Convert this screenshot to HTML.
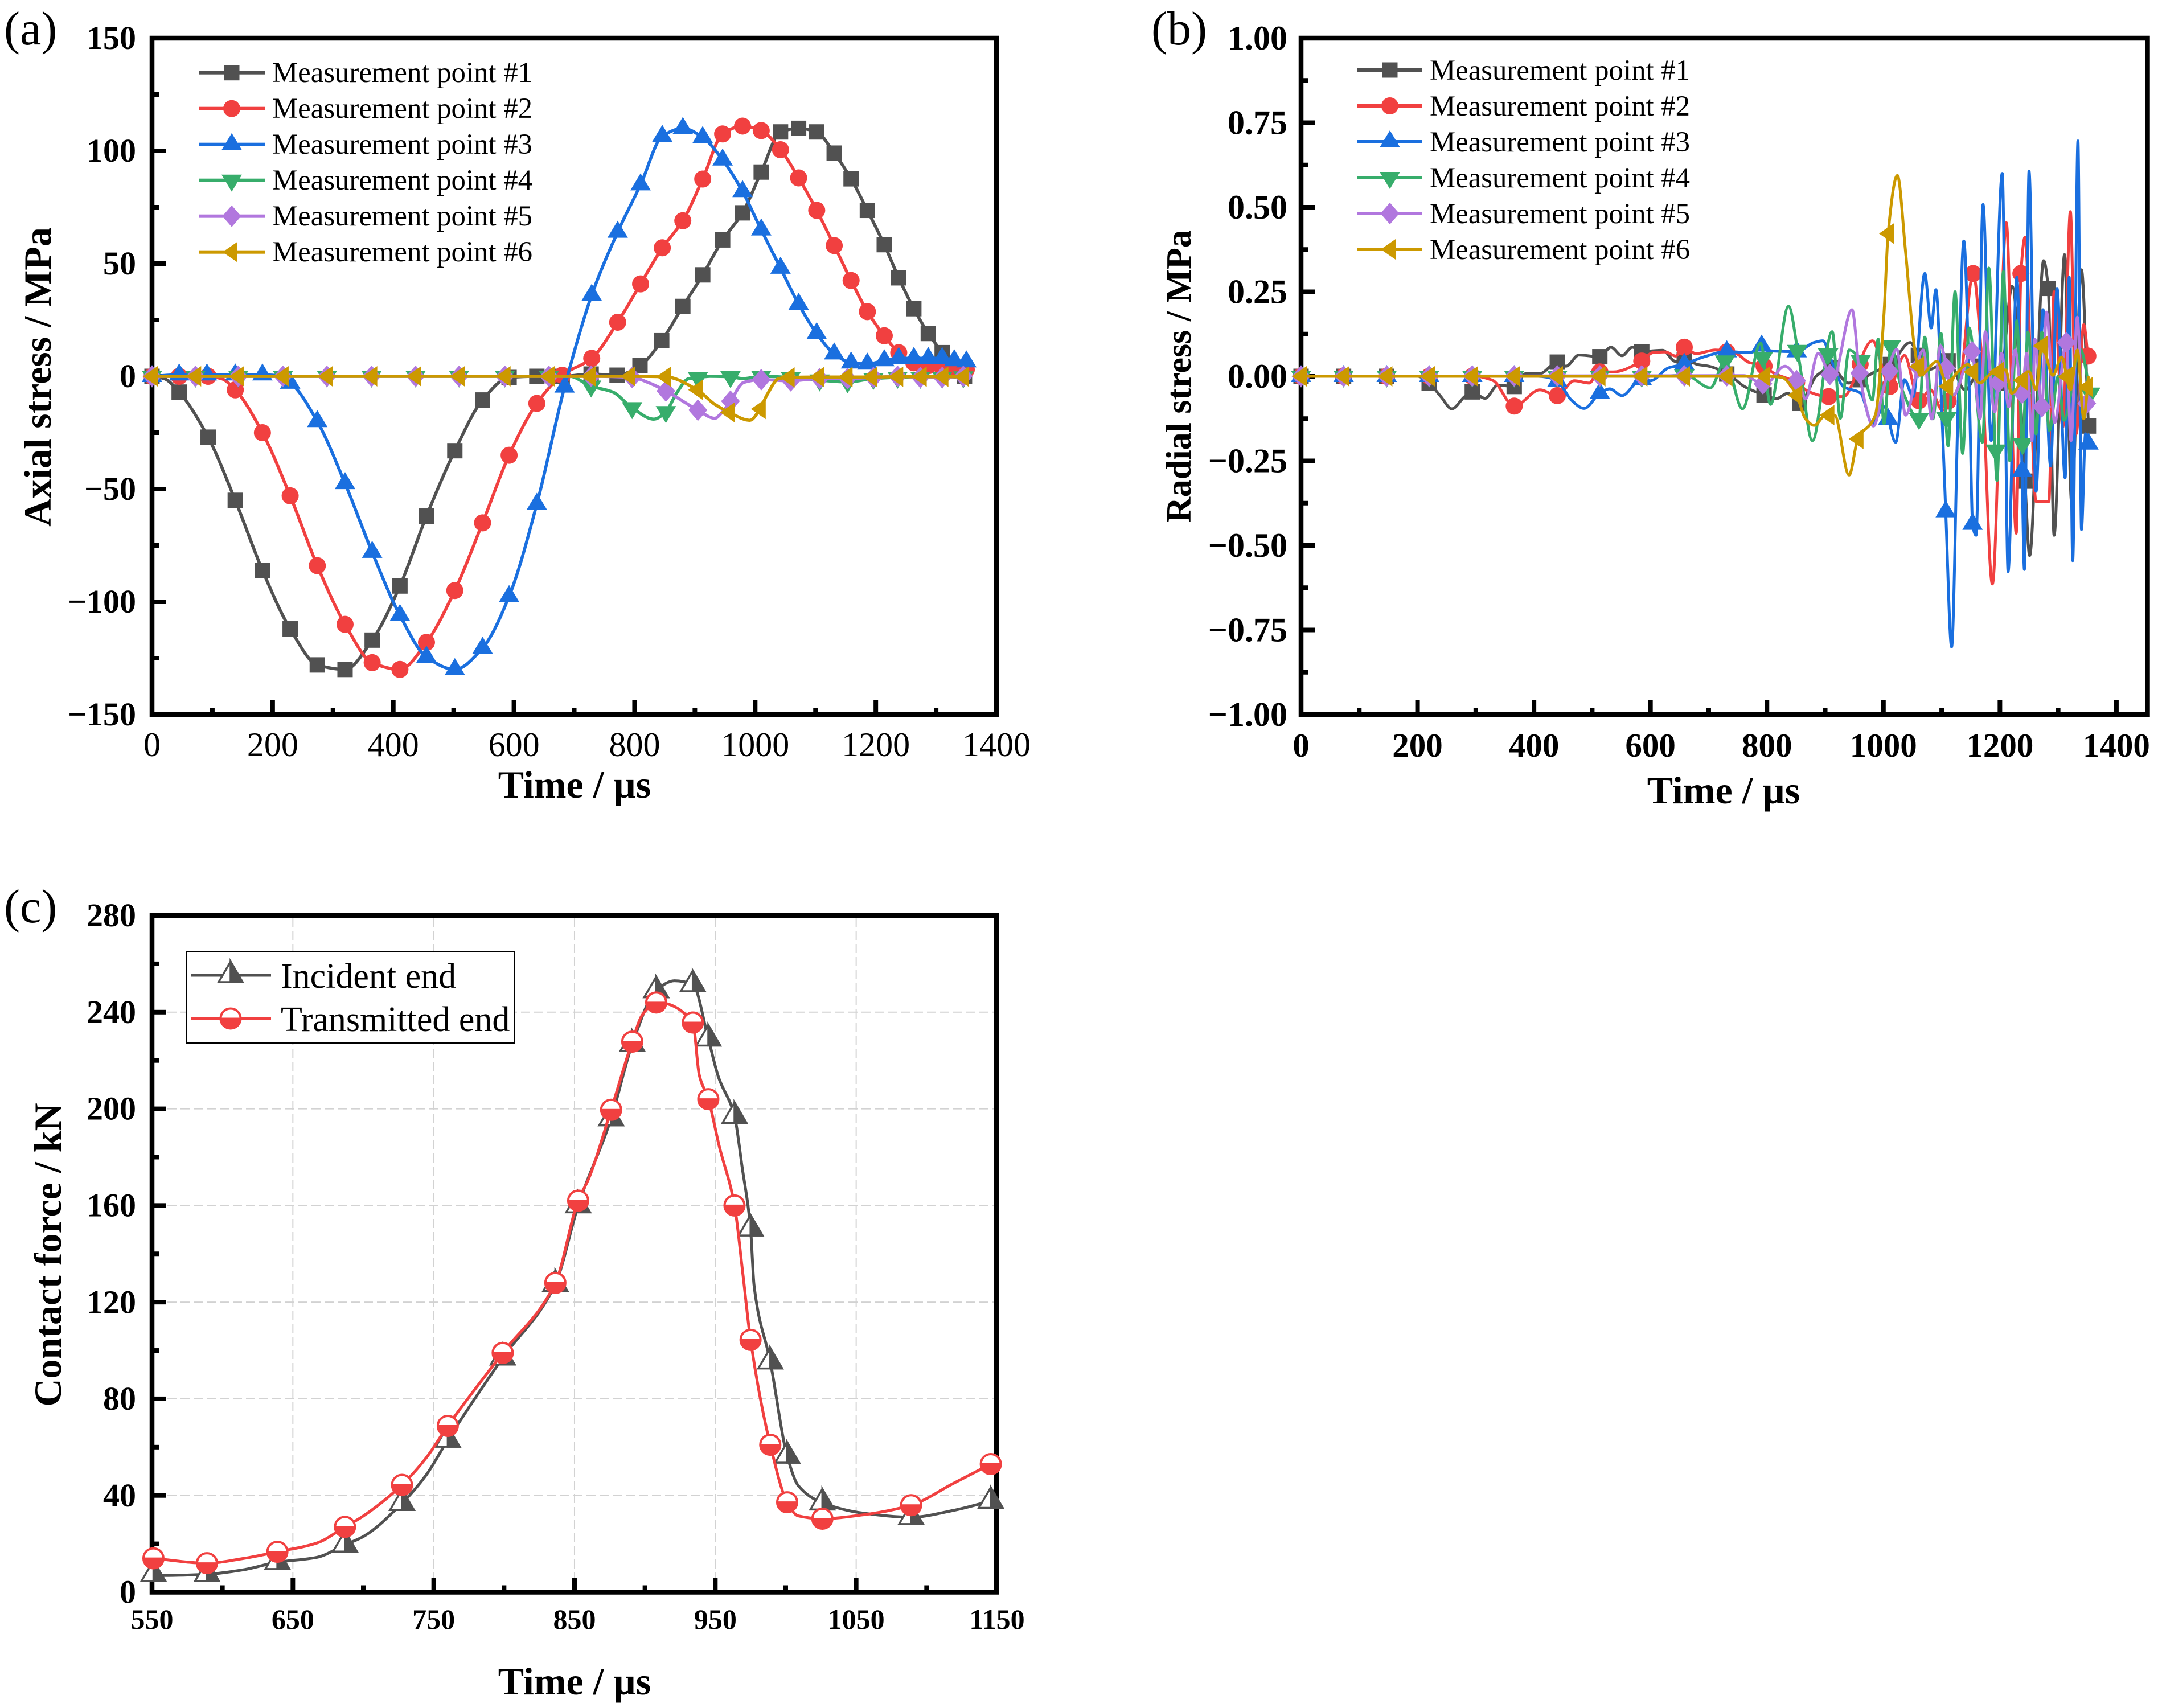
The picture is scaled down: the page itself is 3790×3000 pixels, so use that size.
<!DOCTYPE html>
<html>
<head>
<meta charset="utf-8">
<title>Stress and contact force charts</title>
<style>
html,body{margin:0;padding:0;background:#fff}
svg{display:block;font-family:"Liberation Serif",serif}
text{fill:#000}
.leg{font-size:50.8px}
.ttl{font-size:68px;font-weight:bold}
.pan{font-size:84px}
</style>
</head>
<body>
<svg id="figure" xmlns="http://www.w3.org/2000/svg" width="3790" height="3000" viewBox="0 0 3790 3000">
<rect x="0" y="0" width="3790" height="3000" fill="#fff"/>
<g id="panelA"></g>
<g id="panelB"></g>
<g id="panelC"></g>

<text class="pan" x="7" y="78">(a)</text>
<text class="pan" x="2022" y="78">(b)</text>
<text class="pan" x="7" y="1620">(c)</text>

<text class="ttl" text-anchor="middle" x="1009" y="1401">Time / µs</text>
<text class="ttl" text-anchor="middle" transform="translate(89 662) rotate(-90)">Axial stress / MPa</text>
<text class="ttl" text-anchor="middle" x="3027" y="1411">Time / µs</text>
<text class="ttl" style="font-size:62px" text-anchor="middle" transform="translate(2091 661) rotate(-90)">Radial stress / MPa</text>
<text class="ttl" text-anchor="middle" x="1009" y="2976">Time / µs</text>
<text class="ttl" text-anchor="middle" transform="translate(107 2204) rotate(-90)">Contact force / kN</text>

<g id="legendA">
<text class="leg" x="478" y="144">Measurement point #1</text>
<text class="leg" x="478" y="207">Measurement point #2</text>
<text class="leg" x="478" y="270">Measurement point #3</text>
<text class="leg" x="478" y="333">Measurement point #4</text>
<text class="leg" x="478" y="396">Measurement point #5</text>
<text class="leg" x="478" y="459">Measurement point #6</text>
</g>
<g id="legendB">
<text class="leg" x="2511" y="140">Measurement point #1</text>
<text class="leg" x="2511" y="203">Measurement point #2</text>
<text class="leg" x="2511" y="266">Measurement point #3</text>
<text class="leg" x="2511" y="329">Measurement point #4</text>
<text class="leg" x="2511" y="392">Measurement point #5</text>
<text class="leg" x="2511" y="455">Measurement point #6</text>
</g>
<g id="legendC">
<rect x="327" y="1672" width="577" height="160" fill="#fff" stroke="#000" stroke-width="2"/>
<text x="493" y="1735" style="font-size:62px">Incident end</text>
<text x="493" y="1811" style="font-size:62px">Transmitted end</text>
</g>
</svg>

<script>
// ---------- category / tick data ----------
const colors = ['#515151', '#F14040', '#1A6FDF', '#37AD6B', '#B177DE', '#CC9900'];
const shapes = ['square', 'circle', 'up', 'down', 'diamond', 'left'];

const xTicksA = [0, 200, 400, 600, 800, 1000, 1200, 1400];
const xMinorA = [100, 300, 500, 700, 900, 1100, 1300];
const yTicksA = [150, 100, 50, 0, -50, -100, -150];
const yMinorA = [125, 75, 25, -25, -75, -125];

const xTicksB = [0, 200, 400, 600, 800, 1000, 1200, 1400];
const xMinorB = [100, 300, 500, 700, 900, 1100, 1300];
const yTicksB = [1, 0.75, 0.5, 0.25, 0, -0.25, -0.5, -0.75, -1];
const yMinorB = [0.875, 0.625, 0.375, 0.125, -0.125, -0.375, -0.625, -0.875];

const xTicksC = [550, 650, 750, 850, 950, 1050, 1150];
const xMinorC = [600, 700, 800, 900, 1000, 1100];
const yTicksC = [0, 40, 80, 120, 160, 200, 240, 280];
const yMinorC = [20, 60, 100, 140, 180, 220, 260];

// ---------- panel (a) axial stress ----------
const tA1 = [0,20,45,93,138,183,229,274,320,365,411,455,502,548,592,638,680,728,771,809,845,880,913,946,979,1010,1042,1072,1102,1131,1159,1186,1214,1238,1263,1287,1310,1330,1347];
const vA1 = [0,-1,-7,-27,-55,-86,-112,-128,-130,-117,-93,-62,-33,-10.5,-0.5,0,0,1,0.5,4.7,15.8,31,45,60.5,72.5,90.6,108.4,110,108.4,99,87.6,73.6,58.4,43.7,30,19,10.5,3,0];
const mA1 = [0,45,93,138,183,229,274,320,365,411,455,502,548,592,638,680,728,771,809,845,880,913,946,979,1010,1042,1072,1102,1131,1159,1186,1214,1238,1263,1287,1310,1347];

const tA2 = [0,45,93,115,138,183,229,274,320,365,411,455,502,548,592,638,680,729,772,810,846,880,913,946,979,1010,1042,1072,1102,1131,1159,1186,1214,1238,1263,1287,1310,1330,1350];
const vA2 = [0,0,0,-1,-6,-25,-53,-84,-110,-127,-130,-118,-95,-65,-35,-12,0.5,8,24,41,57,69,87.5,107.5,111,109,100.5,88,73.6,58,42.5,28.7,18,10.5,6,4.7,4,4,3];
const mA2 = [0,45,93,138,183,229,274,320,365,411,455,502,548,592,638,680,729,772,810,846,880,913,946,979,1010,1042,1072,1102,1131,1159,1186,1214,1238,1263,1287,1310,1330,1350];

const tA3 = [0,45,91,138,183,200,229,274,320,365,411,455,502,548,592,638,684,729,772,810,846,880,913,946,979,1010,1042,1072,1102,1131,1159,1186,1214,1238,1263,1287,1310,1330,1350];
const vA3 = [0,0.7,0.7,0.7,0.7,0.5,-3,-20,-47.5,-78,-106,-124.5,-130,-120.5,-97.6,-56.7,-4.7,36,64,85,106.5,110,106,96,82,65,48,32,19,10,6,5.5,7,8,8,8,8,7,6.5];
const mA3 = [0,45,91,138,183,229,274,320,365,411,455,502,548,592,638,684,729,772,810,846,880,913,946,979,1010,1042,1072,1102,1131,1159,1186,1214,1238,1263,1287,1310,1330,1350];

const tA4 = [0,72,143,217,290,364,437,509,585,658,692,728,764,796,832,852,870,890,905,925,959,980,1010,1059,1107,1153,1196,1236,1274,1310,1345];
const vA4 = [0,0,0,0,0,0,0,0,0,0,0,-4.4,-7,-14,-19,-15.7,-7.3,-1,-0.6,0,-0.2,-1,0,-0.5,-1.7,-2.5,-1,-0.5,-0.5,-0.5,-0.3];
const mA4 = [0,72,143,217,290,364,437,509,585,658,728,796,852,905,959,1010,1059,1107,1153,1196,1236,1274,1310,1345];

const tA5 = [0,72,143,217,290,364,437,509,585,658,728,796,825,852,905,933,945,959,981,1010,1059,1107,1153,1196,1236,1274,1310,1345];
const vA5 = [0,0,0,0,0,0,0,0,0,0,0,-0.5,-3,-6.5,-15,-18.6,-16,-11,-2.7,-1.5,-2,-1,-1,-0.5,0,-0.5,-0.5,0];
const mA5 = [0,72,143,217,290,364,437,509,585,658,728,796,852,905,959,1010,1059,1107,1153,1196,1236,1274,1310,1345];

const tA6 = [0,72,143,217,290,364,437,509,585,658,726,792,851,904,933,957,991,1008,1020,1039,1056,1105,1152,1193,1236,1275,1311,1345];
const vA6 = [0,0,0,0,0,0,0,0,0,0,0,0,-0.2,-6,-12.4,-16,-19.5,-14.5,-8,-1,-0.5,-0.3,-0.3,-0.3,-0.2,-0.2,-0.2,-0.2];
const mA6 = [0,72,143,217,290,364,437,509,585,658,726,792,851,904,957,1008,1056,1105,1152,1193,1236,1275,1311,1345];

// ---------- panel (b) radial stress ----------
const tB1 = [0,147,200,220,240,259,281,294,316,338,366,386,410,440,455,477,513,532,551,569,585,600,621,643,658,681,700,736,761,795,816,836,856,886,911,940,960,986,1012,1046,1060,1078,1111,1140,1170,1200,1221,1243,1251,1275,1283,1293,1311,1323,1340,1352];
const vB1 = [0,0,0,-0.02,-0.06,-0.096,-0.06,-0.046,-0.065,-0.026,-0.03,0.008,0.008,0.042,0.03,0.063,0.058,0.086,0.061,0.086,0.073,0.075,0.077,0.044,0.05,0.035,0.03,0.003,-0.03,-0.055,-0.066,-0.05,-0.08,0.003,0.025,-0.02,-0.01,0.014,0.035,0.1,0.062,0.02,0.046,-0.04,0.03,-0.02,0.266,-0.31,-0.53,0.342,0.26,-0.47,0.36,-0.372,0.315,-0.147];
const mB1 = [0,73,147,220,294,366,440,513,585,658,731,795,856,911,960,1012,1060,1111,1170,1200,1243,1283,1352];

const tB2 = [0,300,329,366,410,440,469,495,510,536,584,604,626,643,658,678,711,746,771,791,811,851,871,906,931,981,1011,1036,1061,1081,1101,1131,1154,1168,1187,1211,1228,1236,1243,1262,1284,1293,1308,1321,1331,1344,1351];
const vB2 = [0,0,-0.012,-0.088,-0.04,-0.057,-0.013,-0.02,0.013,0.013,0.044,0.07,0.072,0.06,0.086,0.067,0.078,0.068,0.04,0.035,0.01,-0.018,-0.045,-0.06,-0.06,0.105,-0.03,0.062,-0.072,-0.04,-0.1,-0.02,0.304,0.07,-0.614,0.454,-0.464,0.304,0.411,-0.37,-0.37,0.25,-0.15,0.487,-0.17,0.153,0.06];
const mB2 = [0,73,147,220,294,366,440,513,585,658,731,795,851,906,960,1011,1061,1111,1154,1236,1351];

const tB3 = [0,407,438,464,486,513,530,551,584,600,631,656,691,731,771,791,801,851,881,896,911,931,961,981,1001,1021,1036,1051,1071,1082,1090,1101,1107,1117,1128,1138,1148,1153,1159,1171,1185,1204,1214,1229,1238,1242,1250,1262,1274,1287,1298,1312,1319,1325,1334,1340,1347,1352];
const vB3 = [0,0,-0.01,-0.07,-0.095,-0.05,-0.037,-0.057,-0.009,-0.013,0.025,0.035,0.057,0.073,0.07,0.09,0.076,0.073,0.1,0.105,0.046,-0.03,-0.05,-0.14,-0.09,-0.195,-0.01,-0.06,0.304,0.143,0.256,-0.136,-0.4,-0.8,-0.1,0.4,-0.083,-0.437,-0.47,0.508,-0.19,0.6,-0.577,0.293,-0.28,-0.571,0.607,-0.34,0.197,-0.265,0.26,-0.3,0.293,-0.545,0.696,-0.453,-0.17,-0.2];
const mB3 = [0,73,147,220,294,366,440,513,585,658,731,791,851,1008,1107,1153,1238,1352];

const tB4 = [0,600,660,703,728,758,789,806,837,855,878,912,926,941,961,981,991,1001,1013,1030,1061,1071,1085,1099,1111,1123,1136,1147,1170,1181,1195,1206,1217,1229,1239,1248,1262,1272,1285,1300,1310,1338,1355];
const vB4 = [0,0,0.003,-0.034,0.045,-0.096,0.098,-0.083,0.207,0.05,-0.19,0.132,-0.124,0.078,0.046,-0.07,0.11,-0.14,0.09,-0.03,-0.125,0.116,-0.126,0.127,-0.206,0.25,-0.228,0.143,-0.195,0.32,-0.308,0.31,-0.25,0.164,-0.2,0.13,-0.17,0.13,-0.16,0,-0.13,0.08,-0.05];
const mB4 = [0,73,147,220,294,366,440,513,585,658,728,793,852,905,961,1013,1061,1108,1193,1239,1355];

const tB5 = [0,760,796,831,856,866,888,913,946,960,983,1001,1023,1038,1068,1083,1098,1120,1152,1166,1175,1191,1203,1215,1226,1238,1246,1255,1260,1272,1280,1294,1314,1322,1333,1341,1352];
const vB5 = [0,0.002,-0.024,0.03,-0.024,-0.067,0.068,-0.01,0.197,-0.005,-0.147,-0.03,0.08,-0.115,0.078,-0.126,0.09,-0.055,0.073,-0.125,0.132,-0.105,0.068,-0.09,0.078,-0.05,0.068,-0.19,0.11,-0.09,0.19,-0.137,0.1,-0.19,0.175,-0.08,-0.08];
const mB5 = [0,73,147,220,294,366,440,513,585,658,731,793,851,908,959,1010,1060,1108,1152,1197,1238,1272,1314,1349];

const tB6 = [0,800,825,851,866,881,901,916,941,956,986,1001,1008,1024,1038,1053,1063,1092,1110,1125,1145,1165,1185,1210,1220,1250,1262,1272,1291,1306,1321,1333,1344,1352];
const vB6 = [0,0,-0.003,-0.056,-0.125,-0.145,-0.115,-0.115,-0.292,-0.185,-0.115,0.186,0.422,0.594,0.368,0.09,0.003,0.044,-0.03,0.008,0.035,-0.02,0.008,0.019,-0.05,0.014,-0.04,0.09,0.003,0.057,-0.04,0.078,-0.125,0];
const mB6 = [0,73,147,220,294,366,440,513,585,658,731,796,851,906,956,1008,1060,1110,1153,1197,1238,1272,1315,1350];

// ---------- panel (c) contact force ----------
const tC1 = [551,558.5,589,614.5,639,667,687,700,727.5,744.7,760,799,836.4,852.6,876,891,908,921,934,945,952,963.6,969,975,977.5,989,1001,1009,1026,1055,1089,1119,1145.6];
const vC1 = [7.4,6.9,7.4,9.2,12.4,14.4,19.6,23,36.8,48.5,63,97,127.5,160,196,226.7,249,253,251.5,229,213.5,197,176,150.4,127,95.4,56.4,44,37,32.7,31,33.8,37.7];
const tC2 = [551,589,614.5,639,667,687,699.5,727.5,744.7,760,799,836.4,852.6,860,876,891,898,908,934,938.6,945,952.8,963.6,969.5,975,989,1001,1008.7,1026,1055,1089,1119,1145.6];
const vC2 = [14,12,13.9,16.7,20.3,27,31.3,44.4,55.6,68.8,99,128,162,171,199.6,227.8,238.7,244,235.7,214,204,184.5,160,132,104.4,61,37.2,31.6,30.4,32,36,45,53];
const mC = [551,589,639,687,727.5,760,799,836.4,852.6,876,891,908,934,945,963.6,975,989,1001,1026,1089,1145.6];

// ---------- axis functions ----------
const xA = t => 267 + (t - 0) * 1.0593;
const yA = v => 661 - v * 3.96;
const xB = t => 2285 + (t - 0) * 1.0228;
const yB = v => 661 - v * 594;
const xC = t => 267 + (t - 550) * 2.4733;
const yC = v => 2796.5 - v * 4.2446;

const NS = 'http://www.w3.org/2000/svg';
function mk(parent, tag, attrs) {
  const el = document.createElementNS(NS, tag);
  for (const k in attrs) el.setAttribute(k, attrs[k]);
  parent.appendChild(el);
  return el;
}

// monotone cubic path through data points
function curvePath(px, py) {
  const n = px.length, d = [], m = [];
  for (let i = 0; i < n - 1; i++) d.push((py[i + 1] - py[i]) / (px[i + 1] - px[i]));
  m[0] = d[0]; m[n - 1] = d[n - 2];
  for (let i = 1; i < n - 1; i++) {
    if (d[i - 1] * d[i] <= 0) { m[i] = 0; continue; }
    const h0 = px[i] - px[i - 1], h1 = px[i + 1] - px[i];
    const w0 = 2 * h1 + h0, w1 = h1 + 2 * h0;
    m[i] = (w0 + w1) / (w0 / d[i - 1] + w1 / d[i]);
  }
  let s = 'M' + px[0].toFixed(1) + ' ' + py[0].toFixed(1);
  for (let i = 0; i < n - 1; i++) {
    const h = (px[i + 1] - px[i]) / 3;
    s += 'C' + (px[i] + h).toFixed(1) + ' ' + (py[i] + m[i] * h).toFixed(1) + ' ' +
      (px[i + 1] - h).toFixed(1) + ' ' + (py[i + 1] - m[i + 1] * h).toFixed(1) + ' ' +
      px[i + 1].toFixed(1) + ' ' + py[i + 1].toFixed(1);
  }
  return s;
}

function valueAt(t, v, at) {
  if (at <= t[0]) return v[0];
  for (let i = 1; i < t.length; i++) {
    if (at <= t[i]) return v[i - 1] + (v[i] - v[i - 1]) * (at - t[i - 1]) / (t[i] - t[i - 1]);
  }
  return v[v.length - 1];
}

function poly(pts, cx, cy) {
  return pts.map(p => (cx + p[0]).toFixed(1) + ',' + (cy + p[1]).toFixed(1)).join(' ');
}

function marker(parent, shape, cx, cy, color) {
  let el;
  if (shape === 'square') el = mk(parent, 'rect', { x: cx - 13.5, y: cy - 13.5, width: 27, height: 27, fill: color });
  else if (shape === 'circle') el = mk(parent, 'circle', { cx: cx, cy: cy, r: 15, fill: color });
  else if (shape === 'up') el = mk(parent, 'polygon', { points: poly([[0, -20], [18, 10], [-18, 10]], cx, cy), fill: color });
  else if (shape === 'down') el = mk(parent, 'polygon', { points: poly([[0, 20], [18, -10], [-18, -10]], cx, cy), fill: color });
  else if (shape === 'diamond') el = mk(parent, 'polygon', { points: poly([[0, -19], [16.5, 0], [0, 19], [-16.5, 0]], cx, cy), fill: color });
  else el = mk(parent, 'polygon', { points: poly([[-16, 0], [10, -18], [10, 18]], cx, cy), fill: color });
  
  
  return el;
}

function halfTriangle(parent, cx, cy, color) {
  const g = mk(parent, 'g', {});
  
  
  mk(g, 'polygon', { points: poly([[0, -24], [21, 12], [-21, 12]], cx, cy), fill: '#fff', stroke: color, 'stroke-width': 3.5, 'stroke-linejoin': 'miter' });
  mk(g, 'polygon', { points: poly([[0, -24], [21, 12], [0, 12]], cx, cy), fill: color, stroke: color, 'stroke-width': 3.5 });
}

function halfCircle(parent, cx, cy, color) {
  const g = mk(parent, 'g', {});
  
  
  mk(g, 'circle', { cx: cx, cy: cy, r: 17.5, fill: '#fff', stroke: color, 'stroke-width': 4 });
  mk(g, 'path', { d: 'M' + (cx - 18) + ' ' + (cy - 1.5) + 'H' + (cx + 18) + 'A18 18 0 0 1 ' + (cx - 18) + ' ' + (cy - 1.5) + 'Z', fill: color });
}

function drawFrame(parent, L, R, T, B, xF, yF, xMaj, xMin, yMaj, yMin) {
  const sw = 8.5;
  const frame = mk(parent, 'rect', { x: L, y: T, width: R - L, height: B - T, fill: 'none', stroke: '#000', 'stroke-width': sw });
  
  
  xMaj.forEach(t => {
    const l = mk(parent, 'rect', { x: xF(t) - 4, y: B - 25, width: 8, height: 25, fill: '#000' });
    
    
  });
  xMin.forEach(t => {
    const l = mk(parent, 'rect', { x: xF(t) - 4, y: B - 12, width: 8, height: 12, fill: '#000' });
    
    
  });
  yMaj.forEach(v => {
    const l = mk(parent, 'rect', { x: L, y: yF(v) - 4, width: 25, height: 8, fill: '#000' });
    
    
  });
  yMin.forEach(v => {
    const l = mk(parent, 'rect', { x: L, y: yF(v) - 4, width: 12, height: 8, fill: '#000' });
    
    
  });
}

function xLabels(parent, ticks, xF, base, size, weight) {
  ticks.forEach(t => {
    const e = mk(parent, 'text', { x: xF(t), y: base, 'text-anchor': 'middle', 'font-size': size, 'font-weight': weight });
    
    
    e.textContent = String(t);
  });
}

function yLabels(parent, ticks, yF, right, size, fmt) {
  ticks.forEach(v => {
    const e = mk(parent, 'text', { x: right, y: yF(v) + size * 0.33, 'text-anchor': 'end', 'font-size': size, 'font-weight': 'bold' });
    
    
    const s = fmt(Math.abs(v));
    e.textContent = (v < 0 ? '\u2212' : '') + s;
  });
}

function drawSeries(parent, xF, yF, t, v, marks, idx, lw, name) {
  const g = mk(parent, 'g', {});
  
  
  const line = mk(g, 'path', {
    d: curvePath(t.map(xF), v.map(yF)), fill: 'none', stroke: colors[idx],
    'stroke-width': lw, 'stroke-linejoin': 'round', 'stroke-linecap': 'butt'
  });
  
  
  marks.forEach(at => marker(g, shapes[idx], xF(at), yF(valueAt(t, v, at)), colors[idx]));
}

function legendKeys(parent, x0, x1, y0) {
  colors.forEach((c, i) => {
    const y = y0 + 63 * i;
    const l = mk(parent, 'rect', { x: x0, y: y - 3, width: x1 - x0, height: 6, fill: c });
    
    
    marker(parent, shapes[i], (x0 + x1) / 2, y, c);
  });
}

// ---------- panel (a) ----------
const pa = document.getElementById('panelA');
drawFrame(pa, 267, 1750, 67, 1255, xA, yA, xTicksA, xMinorA, yTicksA, yMinorA);
xLabels(pa, xTicksA, xA, 1328, 60, 'normal');
yLabels(pa, yTicksA, yA, 239, 58, a => String(a));
const seriesA = [[tA1, vA1, mA1], [tA2, vA2, mA2], [tA3, vA3, mA3], [tA4, vA4, mA4], [tA5, vA5, mA5], [tA6, vA6, mA6]];
seriesA.forEach((s, i) => drawSeries(pa, xA, yA, s[0], s[1], s[2], i, 5.5, 'axial-series-point-' + (i + 1)));
legendKeys(document.getElementById('legendA'), 349, 465, 127.7);

// ---------- panel (b) ----------
const pb = document.getElementById('panelB');
drawFrame(pb, 2285, 3771.5, 67, 1255, xB, yB, xTicksB, xMinorB, yTicksB, yMinorB);
xLabels(pb, xTicksB, xB, 1329, 59, 'bold');
yLabels(pb, yTicksB, yB, 2261, 60, a => a.toFixed(2));
const seriesB = [[tB1, vB1, mB1], [tB2, vB2, mB2], [tB3, vB3, mB3], [tB4, vB4, mB4], [tB5, vB5, mB5], [tB6, vB6, mB6]];
seriesB.forEach((s, i) => drawSeries(pb, xB, yB, s[0], s[1], s[2], i, 5, 'radial-series-point-' + (i + 1)));
legendKeys(document.getElementById('legendB'), 2384, 2498, 123);

// ---------- panel (c) ----------
const pc = document.getElementById('panelC');
xTicksC.slice(1, -1).forEach(t => {
  const l = mk(pc, 'line', { x1: xC(t), x2: xC(t), y1: 1612, y2: 2792, stroke: '#d2d2d2', 'stroke-width': 2, 'stroke-dasharray': '16 7' });
  
  
});
yTicksC.slice(1, -1).forEach(v => {
  const l = mk(pc, 'line', { x1: 271, x2: 1746, y1: yC(v), y2: yC(v), stroke: '#d2d2d2', 'stroke-width': 2, 'stroke-dasharray': '16 7' });
  
  
});
drawFrame(pc, 267, 1750, 1608, 2796.5, xC, yC, xTicksC, xMinorC, yTicksC, yMinorC);
xLabels(pc, xTicksC, xC, 2861, 50, 'bold');
yLabels(pc, yTicksC, yC, 239, 58, a => String(a));

const lineC1 = mk(pc, 'path', { d: curvePath(tC1.map(xC), vC1.map(yC)), fill: 'none', stroke: colors[0], 'stroke-width': 5, 'stroke-linejoin': 'round' });


mC.forEach(at => halfTriangle(pc, xC(at), yC(valueAt(tC1, vC1, at)), colors[0]));
const lineC2 = mk(pc, 'path', { d: curvePath(tC2.map(xC), vC2.map(yC)), fill: 'none', stroke: colors[1], 'stroke-width': 5, 'stroke-linejoin': 'round' });


mC.forEach(at => halfCircle(pc, xC(at), yC(valueAt(tC2, vC2, at)), colors[1]));

const lc = document.getElementById('legendC');
const lk1 = mk(lc, 'rect', { x: 336, y: 1710.5, width: 140, height: 5, fill: colors[0] });


halfTriangle(lc, 405, 1713, colors[0]);
const lk2 = mk(lc, 'rect', { x: 336, y: 1786.5, width: 140, height: 5, fill: colors[1] });


halfCircle(lc, 405, 1789, colors[1]);
</script>
</body>
</html>
